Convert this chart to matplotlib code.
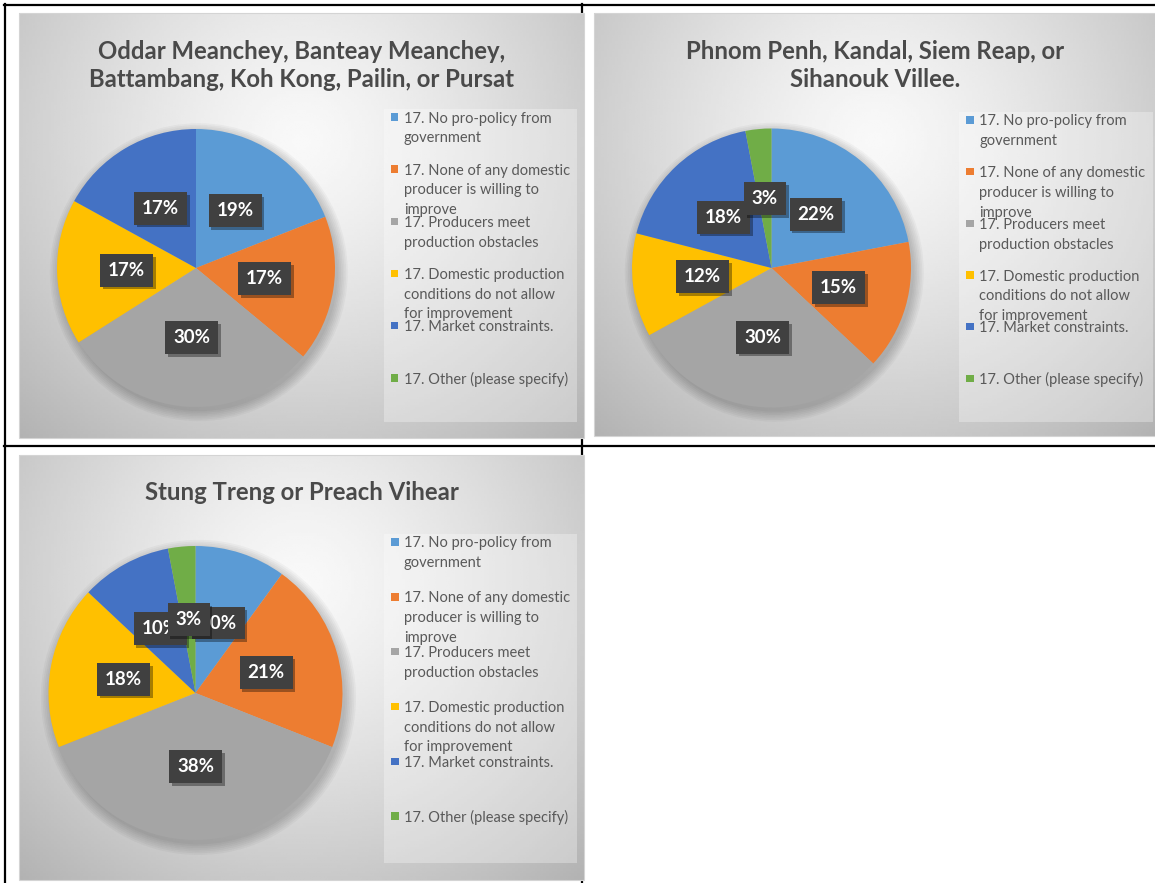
import numpy as np
import matplotlib.pyplot as plt
import matplotlib.patheffects as pe
from matplotlib.patches import Rectangle, Circle

plt.rcParams['font.family'] = ['Lato', 'DejaVu Sans']

W, H = 1155, 883

# legend labels (wrapped as in the original chart)
categories = [
    "17. No pro-policy from\ngovernment",
    "17. None of any domestic\nproducer is willing to\nimprove",
    "17. Producers meet\nproduction obstacles",
    "17. Domestic production\nconditions do not allow\nfor improvement",
    "17. Market constraints.",
    "17. Other (please specify)",
]
slice_colors = ["#5B9BD5", "#ED7D31", "#A5A5A5", "#FFC000", "#4472C4", "#70AD47"]

titles = [
    "Oddar Meanchey, Banteay Meanchey,\nBattambang, Koh Kong, Pailin, or Pursat",
    "Phnom Penh, Kandal, Siem Reap, or\nSihanouk Villee.",
    "Stung Treng or Preach Vihear",
]
west_pct = [19, 17, 30, 17, 17, 0]
central_pct = [22, 15, 30, 12, 18, 3]
north_pct = [10, 21, 38, 18, 10, 3]
shares = [west_pct, central_pct, north_pct]

# panel geometry in pixels (panel box, pie centre/radius, legend box, marker x, text x, title y)
panels = [
    dict(box=(19, 13, 584, 438), pie=(196, 268, 139), legend=(384, 109, 577, 422), mk=394.5, tx=404, ty=65.5),
    dict(box=(594, 13, 1156, 436), pie=(771.5, 268, 139.5), legend=(959, 112, 1153, 422), mk=970, tx=979, ty=65.5),
    dict(box=(19, 455, 584, 880), pie=(195.5, 693, 147), legend=(384, 534, 577, 863), mk=395, tx=404, ty=492),
]

fig = plt.figure(figsize=(W / 100, H / 100), dpi=100)
canvas = fig.add_axes([0, 0, 1, 1])
canvas.set_xlim(0, W)
canvas.set_ylim(H, 0)
canvas.axis('off')

# table grid lines behind the charts
lw = 1.6
canvas.plot([4, W], [5, 5], color='black', lw=lw, zorder=1)
canvas.plot([5, 5], [4, H], color='black', lw=lw, zorder=1)
canvas.plot([581.5, 581.5], [4, H], color='black', lw=lw, zorder=1)
canvas.plot([4, W], [446, 446], color='black', lw=lw, zorder=1)

for p, title, vals in zip(panels, titles, shares):
    x0, y0, x1, y1 = p['box']
    w, h = x1 - x0, y1 - y0

    # radial grey gradient background
    gx, gy = np.meshgrid(np.linspace(0, 1, 200), np.linspace(0, 1, 160))
    r = np.sqrt(((gx - 0.5) / 0.62) ** 2 + ((gy - 0.3) / 0.8) ** 2)
    shade = 0.975 - 0.22 * np.clip(r, 0, 1.2) ** 1.3
    canvas.imshow(shade, cmap='gray', vmin=0, vmax=1, extent=(x0, x1, y1, y0),
                  aspect='auto', interpolation='bilinear', zorder=2)
    canvas.add_patch(Rectangle((x0, y0), w, h, fill=False, ec='#d4d4d4', lw=0.8, zorder=2.5))

    canvas.text((x0 + x1) / 2, p['ty'], title, ha='center', va='center', fontsize=17.2,
                fontweight='bold', color='#4a4a4a', linespacing=1.3, zorder=5)

    # legend
    lx0, ly0, lx1, ly1 = p['legend']
    canvas.add_patch(Rectangle((lx0, ly0), lx1 - lx0, ly1 - ly0, fc='white', alpha=0.3, ec='none', zorder=3))
    step = (ly1 - ly0) / len(categories)
    for i, (lab, col) in enumerate(zip(categories, slice_colors)):
        yc = ly0 + 8 + i * step
        canvas.add_patch(Rectangle((p['mk'] - 3.7, yc - 3.7), 7.4, 7.4, fc=col, ec='none', zorder=4))
        for j, line in enumerate(lab.split('\n')):
            canvas.text(p['tx'], yc + j * 19.7, line, ha='left', va='center_baseline',
                        fontsize=10.5, color='#595959', zorder=5)

    # pie
    cx, cy, rad = p['pie']
    ax = fig.add_axes([(cx - 1.25 * rad) / W, 1 - (cy + 1.25 * rad) / H, 2.5 * rad / W, 2.5 * rad / H])
    ax.set_zorder(3)
    ax.patch.set_alpha(0)
    for k in range(7):
        ax.add_patch(Circle((0.02, -0.03), 1.0 + 0.012 * k, color='black', alpha=0.03, lw=0, zorder=0))
    v = [a for a in vals if a > 0]
    c = [col for a, col in zip(vals, slice_colors) if a > 0]
    wedges, _, autotexts = ax.pie(
        v, colors=c, startangle=90, counterclock=False, radius=1,
        autopct=lambda pct: f"{pct:.0f}%", pctdistance=0.5,
        wedgeprops=dict(linewidth=0),
        textprops=dict(color='white', fontsize=13.5, fontweight='bold',
                       bbox=dict(boxstyle='square,pad=0.42', fc='#404040', ec='none')))
    for t in autotexts:
        t.get_bbox_patch().set_path_effects(
            [pe.SimplePatchShadow(offset=(2, -2), shadow_rgbFace='black', alpha=0.35), pe.Normal()])

fig.savefig('out.png', dpi=100)
